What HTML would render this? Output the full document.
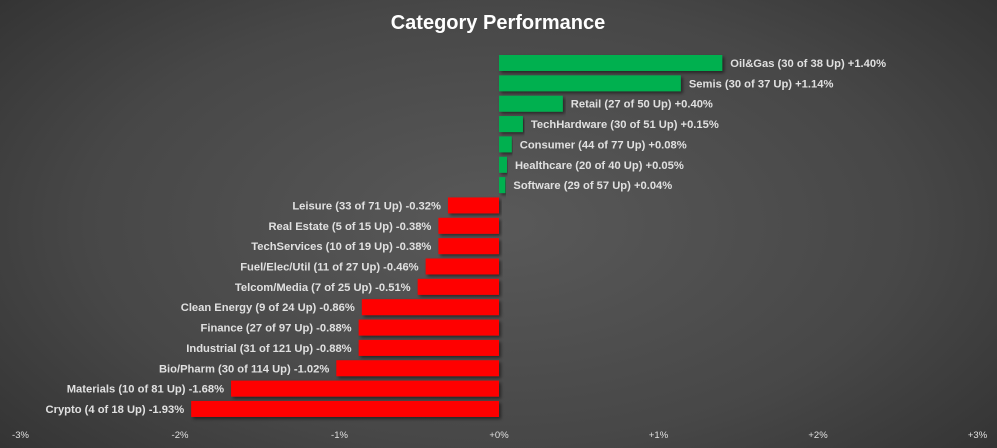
<!DOCTYPE html>
<html><head><meta charset="utf-8"><style>
html,body{margin:0;padding:0}
body{width:997px;height:448px;overflow:hidden;background:radial-gradient(ellipse 75% 90% at 50% 50%,#595959 0%,#474747 55%,#2c2c2c 100%);font-family:"Liberation Sans",sans-serif}
svg{display:block}
</style></head><body>
<svg id="chart" width="997" height="448" xmlns="http://www.w3.org/2000/svg">
<defs><filter id="sh" x="-5%" y="-20%" width="110%" height="160%"><feDropShadow dx="2" dy="2" stdDeviation="1.5" flood-color="#000" flood-opacity="0.5"/></filter></defs>
<text x="498" y="29" text-anchor="middle" fill="#ffffff" font-size="20" font-weight="bold">Category Performance</text>
<g id="bars"></g>
<g id="ticks"></g>
</svg>
<script>
const categories=["Oil&Gas (30 of 38 Up)","Semis (30 of 37 Up)","Retail (27 of 50 Up)","TechHardware (30 of 51 Up)","Consumer (44 of 77 Up)","Healthcare (20 of 40 Up)","Software (29 of 57 Up)","Leisure (33 of 71 Up)","Real Estate (5 of 15 Up)","TechServices (10 of 19 Up)","Fuel/Elec/Util (11 of 27 Up)","Telcom/Media (7 of 25 Up)","Clean Energy (9 of 24 Up)","Finance (27 of 97 Up)","Industrial (31 of 121 Up)","Bio/Pharm (30 of 114 Up)","Materials (10 of 81 Up)","Crypto (4 of 18 Up)"];
const values=[1.40,1.14,0.40,0.15,0.08,0.05,0.04,-0.32,-0.38,-0.38,-0.46,-0.51,-0.86,-0.88,-0.88,-1.02,-1.68,-1.93];
const tickValues=[-3,-2,-1,0,1,2,3];
const tickLabels=["-3%","-2%","-1%","+0%","+1%","+2%","+3%"];
const NS="http://www.w3.org/2000/svg";
const x0=499,ppu=159.5,top0=55,pitch=20.35,bh=16;
const xs=v=>x0+v*ppu;
const ys=i=>top0+i*pitch;
const bars=document.getElementById('bars'),ticks=document.getElementById('ticks');
values.forEach((v,i)=>{
  const r=document.createElementNS(NS,'rect');
  
  
  const a=xs(Math.min(0,v)),b=xs(Math.max(0,v));
  r.setAttribute('x',a);r.setAttribute('y',ys(i));r.setAttribute('width',Math.max(b-a,1));r.setAttribute('height',bh);
  r.setAttribute('fill',v>=0?'#00b050':'#ff0000');r.setAttribute('filter','url(#sh)');
  bars.appendChild(r);
  const t=document.createElementNS(NS,'text');
  
  
  t.setAttribute('y',ys(i)+bh/2+4);
  t.setAttribute('font-size','11.2');t.setAttribute('font-weight','bold');t.setAttribute('fill','#e0e0e0');
  if(v>=0){t.setAttribute('x',xs(v)+8);t.setAttribute('text-anchor','start');}
  else{t.setAttribute('x',xs(v)-7);t.setAttribute('text-anchor','end');}
  t.textContent=categories[i]+' '+(v>=0?'+':'-')+Math.abs(v).toFixed(2)+'%';
  bars.appendChild(t);
});
tickValues.forEach((v,i)=>{
  const t=document.createElementNS(NS,'text');
  
  
  t.setAttribute('x',xs(v));t.setAttribute('y',438);t.setAttribute('text-anchor','middle');
  t.setAttribute('font-size','9.5');t.setAttribute('fill','#e0e0e0');
  t.textContent=tickLabels[i];
  ticks.appendChild(t);
});
</script>
</body></html>
